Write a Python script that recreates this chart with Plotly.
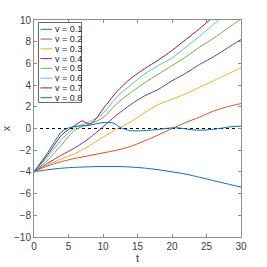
import plotly.graph_objects as go

# ---- data ----
labels = ["v = 0.1", "v = 0.2", "v = 0.3", "v = 0.4", "v = 0.5", "v = 0.6", "v = 0.7", "v = 0.8"]
colors = ["#0072BD", "#D95319", "#EDB120", "#7E2F8E", "#77AC30", "#4DBEEE", "#A2142F", "#0072BD"]

t_v01 = [0, 2, 4, 6, 8, 10, 12, 14, 16, 18, 20, 22, 24, 26, 28, 30]
x_v01 = [-4, -3.8, -3.66, -3.58, -3.53, -3.5, -3.5, -3.55, -3.65, -3.8, -4.0, -4.2, -4.5, -4.8, -5.1, -5.4]

t_v02 = [0, 2, 4, 6, 8, 10, 12, 14, 16, 18, 20, 22, 24, 26, 28, 30]
x_v02 = [-4, -3.45, -3.05, -2.75, -2.5, -2.25, -2.0, -1.65, -1.15, -0.6, 0.0, 0.55, 1.05, 1.6, 2.0, 2.3]

t_v03 = [0, 2, 4, 6, 8, 10, 12, 14, 16, 18, 20, 22, 24, 26, 28, 30]
x_v03 = [-4, -3.35, -2.8, -2.3, -1.6, -0.8, -0.05, 0.6, 1.45, 2.2, 2.7, 3.2, 3.8, 4.4, 5.0, 5.6]

t_v04 = [0, 2, 4, 6, 8, 10, 12, 14, 16, 18, 20, 22, 24, 26, 28, 30]
x_v04 = [-4, -3.2, -2.45, -1.75, -0.9, 0.15, 1.25, 2.2, 3.0, 3.6, 4.4, 5.1, 5.9, 6.6, 7.4, 8.2]

t_v05 = [0, 2, 4, 6, 8, 10, 12, 14, 16, 18, 20, 22, 24, 26, 28, 30]
x_v05 = [-4, -2.9, -1.5, -0.1, 0.4, 1.0, 2.3, 3.3, 4.2, 5.0, 5.8, 6.6, 7.5, 8.3, 9.2, 10.1]

t_v06 = [0, 2, 4, 5, 6, 8, 10, 12, 14, 16, 18, 20, 22, 24, 26, 28]
x_v06 = [-4, -2.6, -1.0, -0.4, 0.1, 0.6, 1.4, 2.9, 4.0, 5.0, 5.8, 6.5, 7.5, 8.5, 9.6, 10.6]

t_v07 = [0, 2, 4, 5, 6, 7, 8, 9, 10, 11, 12, 14, 16, 18, 20, 22, 24, 26]
x_v07 = [-4, -2.4, -0.6, -0.1, 0.3, 0.7, 0.4, 0.9, 1.8, 2.6, 3.4, 4.6, 5.5, 6.3, 7.2, 8.2, 9.2, 10.3]

t_v08 = [0, 2, 3, 4, 5, 6, 8, 10, 11.5, 12.5, 14, 17, 20.5, 23.5, 26, 28.5, 30]
x_v08 = [-4, -2.2, -1.2, -0.3, 0.05, 0.2, 0.3, 0.55, 0.5, 0.1, -0.2, -0.15, 0.07, -0.15, -0.08, 0.16, 0.22]

series_t = [t_v01, t_v02, t_v03, t_v04, t_v05, t_v06, t_v07, t_v08]
series_x = [x_v01, x_v02, x_v03, x_v04, x_v05, x_v06, x_v07, x_v08]

x_ticks = [0, 5, 10, 15, 20, 25, 30]
y_ticks = [-10, -8, -6, -4, -2, 0, 2, 4, 6, 8, 10]

fig = go.Figure()

# dashed reference line at x = 0
fig.add_trace(go.Scatter(x=[0, 30], y=[0, 0], mode="lines",
                         line=dict(color="black", width=1, dash="dot"),
                         showlegend=False, hoverinfo="skip"))

for lab, col, tt, xx in zip(labels, colors, series_t, series_x):
    fig.add_trace(go.Scatter(x=tt, y=xx, mode="lines", name=lab,
                             line=dict(color=col, width=1, shape="spline", smoothing=0.8),
                             showlegend=False))

# manual legend (MATLAB style), positioned in pixel units of the plot area
W, H, L, T = 207.0, 217.0, 34.0, 20.0
def px(xp):
    return (xp - L) / W
def py(yp):
    return 1 - (yp - T) / H

legend_shapes = [dict(type="rect", xref="paper", yref="paper",
                      x0=px(38.5), x1=px(81.5), y0=py(102.5), y1=py(22.5),
                      line=dict(color="#666666", width=1), fillcolor="rgba(255,255,255,1)",
                      layer="above")]
for i, (lab, col) in enumerate(zip(labels, colors)):
    yy = 29.3 + i * 9.77
    legend_shapes.append(dict(type="line", xref="paper", yref="paper",
                              x0=px(40.5), x1=px(52), y0=py(yy), y1=py(yy),
                              line=dict(color=col, width=1), layer="above"))
    fig.add_annotation(xref="paper", yref="paper", x=px(52.5), y=py(yy),
                       text=lab, showarrow=False, xanchor="left", yanchor="middle",
                       font=dict(family="Liberation Sans", size=9, color="#262626"))

axis_common = dict(showgrid=False, zeroline=False, ticks="inside", ticklen=3,
                   mirror="ticks", showline=True, linecolor="#8c8c8c", linewidth=1,
                   tickcolor="#8c8c8c", automargin=False,
                   tickfont=dict(family="Liberation Sans", size=10, color="#404040"))

fig.update_xaxes(range=[0, 30], tickvals=x_ticks, **axis_common,
                 title=dict(text="t", standoff=2,
                            font=dict(family="Liberation Sans", size=11, color="#404040")))
fig.update_yaxes(range=[-10, 10], tickvals=y_ticks, **axis_common,
                 title=dict(text="x", standoff=4,
                            font=dict(family="Liberation Sans", size=11, color="#404040")))

fig.update_layout(width=267, height=267, margin=dict(l=34, r=26, t=20, b=30, autoexpand=False),
                  plot_bgcolor="white", paper_bgcolor="white", showlegend=False,
                  shapes=legend_shapes)

fig.write_html("out.html", config={"displayModeBar": False},
               post_script="document.body.style.margin='0px';document.body.style.padding='0px';")
